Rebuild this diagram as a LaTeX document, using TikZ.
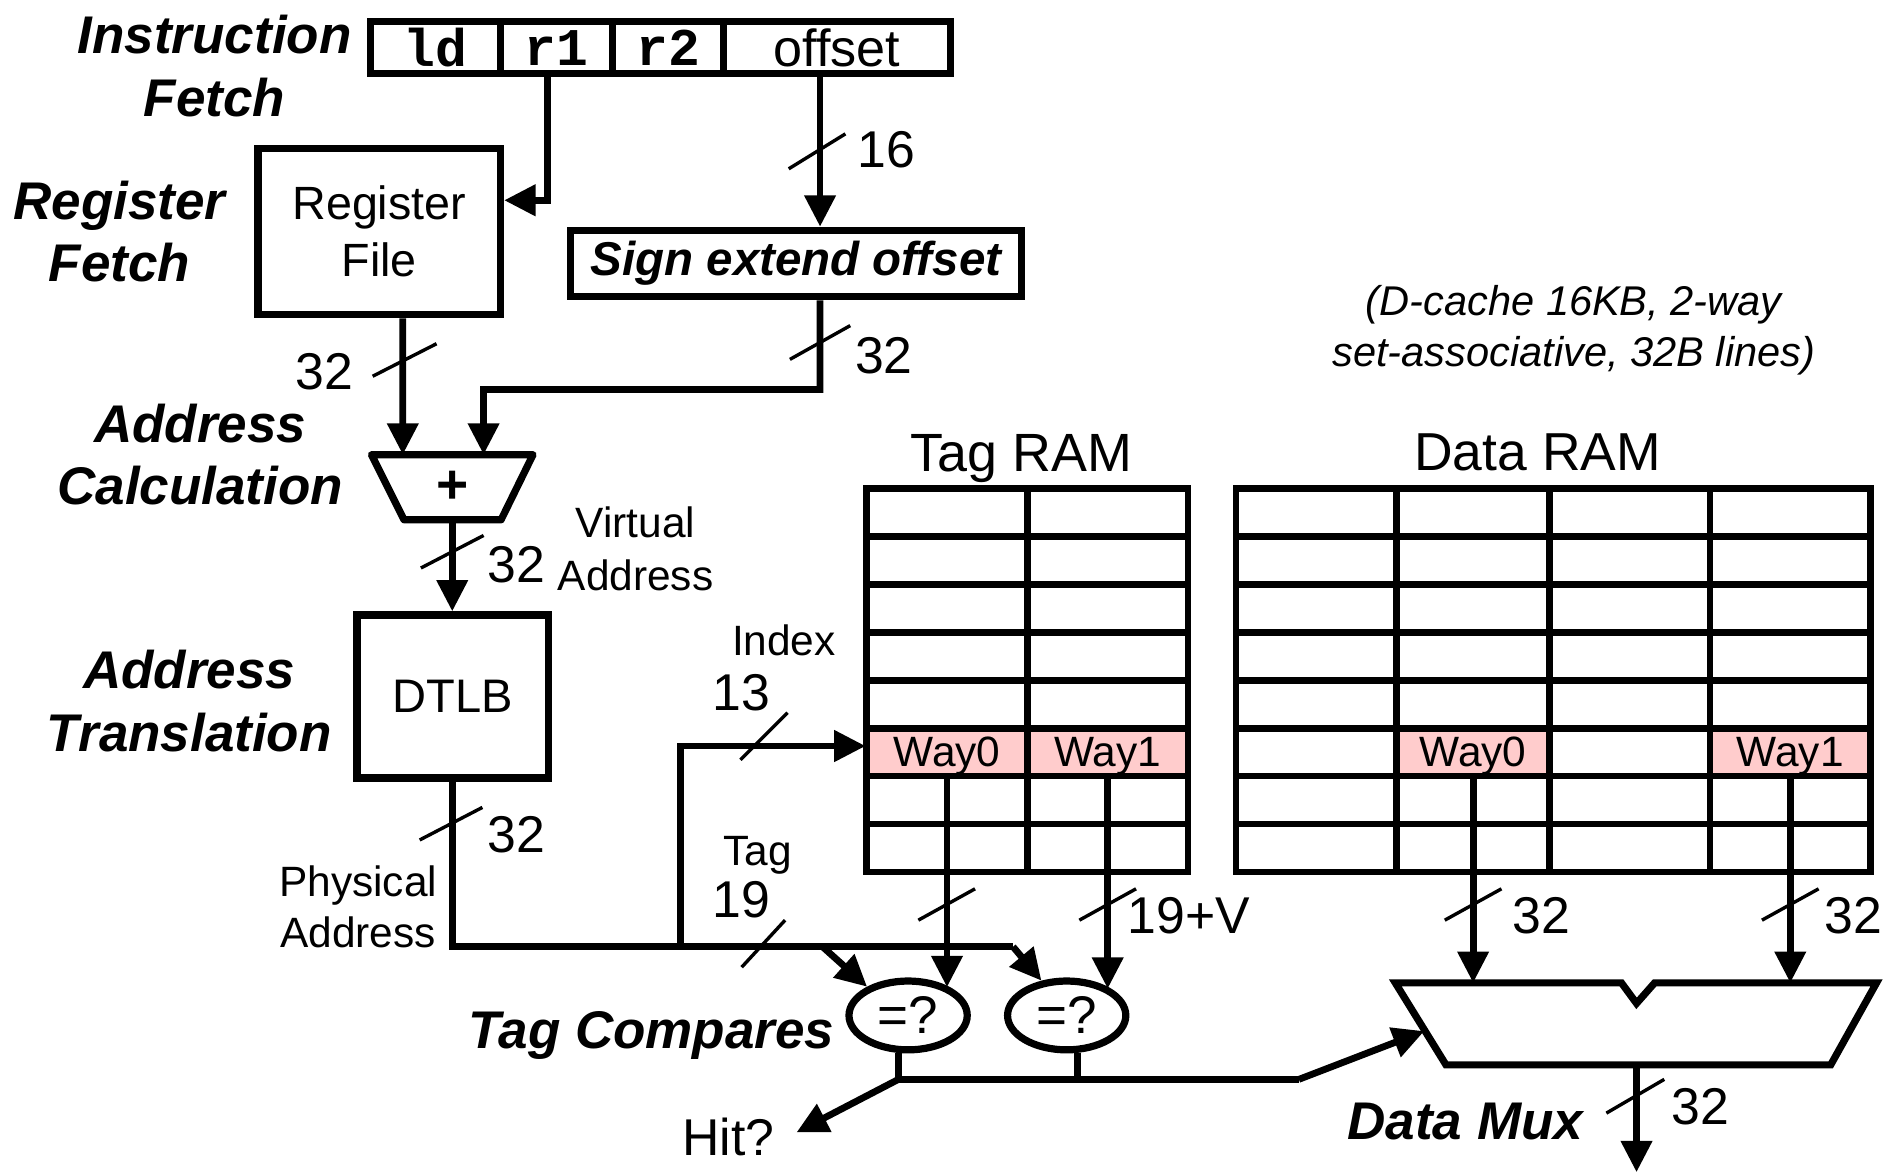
\documentclass[tikz,border=0pt]{standalone}
\usepackage{fontspec}
\setmainfont{Liberation Sans}
\setmonofont{Liberation Mono}
\usetikzlibrary{arrows.meta,calc,shapes.geometric}
\definecolor{waypink}{RGB}{255,204,204}
\newcommand\busmark[3]{\draw[busline] ($(#1)+(-#2,#3)$) -- ($(#1)+(#2,-#3)$);}
\begin{document}
\begin{tikzpicture}[x=0.01cm,y=-0.01cm,
  box/.style={draw,line width=1.7pt,inner sep=0pt,align=center},
  field/.style={draw,line width=1.6pt,inner sep=0pt,minimum height=0.43cm},
  wire/.style={line width=1.6pt},
  arr/.style={line width=1.6pt,-{Triangle[length=0.26cm,width=0.25cm]}},
  busline/.style={line width=0.8pt},
  stage/.style={font=\fontsize{12.5}{14.8}\selectfont\bfseries\itshape,align=center,inner sep=0pt},
  num/.style={font=\fontsize{12.2}{14}\selectfont,inner sep=0pt},
  note/.style={font=\fontsize{10}{12}\selectfont,align=center,inner sep=0pt},
  cell/.style={fill=waypink,inner sep=0pt,minimum height=0.3975cm,text depth=0pt,font=\fontsize{10}{12}\selectfont},
  gridline/.style={line width=1.6pt},
  cmp/.style={draw,ellipse,line width=1.7pt,minimum width=0.98cm,minimum height=0.57cm,inner sep=0pt,font=\fontsize{12.5}{14}\selectfont},
]
\useasboundingbox[fill=white] (0,0) rectangle (1568,973);

% ---------- stage labels ----------
\node[stage] (lif) at (178,55) {Instruction\\Fetch};
\node[stage] (lrf) at (99,192) {Register\\Fetch};
\node[stage] (lac) at (166,377) {Address\\Calculation};
\node[stage] (lat) at (157,581) {Address\\Translation};
\node[stage] (ltc) at (540,859) {Tag Compares};
\node[stage] (ldm) at (1215,930) {Data Mux};

% ---------- instruction ----------
\node[field,minimum width=1.08cm,font=\fontsize{12.5}{14}\selectfont\ttfamily\bfseries] (ld) at (361,39.5) {ld};
\node[field,minimum width=0.93cm,font=\fontsize{12.5}{14}\selectfont\ttfamily\bfseries] (r1) at (461.5,39.5) {r1};
\node[field,minimum width=0.92cm,font=\fontsize{12.5}{14}\selectfont\ttfamily\bfseries] (r2) at (554,39.5) {r2};
\node[field,minimum width=1.88cm,font=\fontsize{12.3}{14}\selectfont] (offset) at (694,39.5) {offset};

% ---------- register file, sign extend ----------
\node[box,minimum width=2.01cm,minimum height=1.38cm,font=\fontsize{11}{13.4}\selectfont] (rf) at (314.5,192) {Register\\File};
\node[box,minimum width=3.735cm,minimum height=0.55cm,font=\fontsize{11.2}{13}\selectfont\bfseries\itshape] (se) at (660,218.5) {Sign extend offset};

\coordinate (rfin) at ($(rf.north east)!0.32!(rf.south east)$);
\draw[arr] ([xshift=-0.075cm]r1.south) |- (rfin);
\draw[arr] ([xshift=-0.14cm]offset.south) -- ([xshift=-0.14cm]offset.south |- se.north);
\busmark{677.5,125.5}{23.5}{14.5}
\node[num] (n16) at (735,124) {16};

% ---------- adder ----------
\draw[line width=1.7pt,line join=round] (308,377) -- (442,377) -- (415.5,431) -- (335,431) -- cycle;
\node[font=\fontsize{13}{14}\selectfont\bfseries,inner sep=0pt] (add) at (375,404) {+};
\coordinate (addin1) at (334,377);
\coordinate (addin2) at (401,377);
\coordinate (addout) at (375,431);
\coordinate (sebend) at (680,323);

\draw[arr] ([xshift=0.195cm]rf.south) -- (addin1);
\busmark{335.5,298.5}{26.5}{13.5}
\node[num] (n32a) at (269,308) {32};

\draw[arr] ([xshift=0.2cm]se.south) -- (sebend) -| (addin2);
\busmark{680,284}{25}{14}
\node[num] (n32b) at (733,295) {32};

% ---------- DTLB ----------
\node[box,minimum width=1.59cm,minimum height=1.35cm,font=\fontsize{11.1}{13}\selectfont] (dtlb) at (375.5,577.5) {DTLB};
\draw[arr] (addout) -- (addout |- dtlb.north);
\busmark{375,457.5}{26}{13.5}
\node[num] (n32c) at (428,468) {32};
\node[note,font=\fontsize{10}{12.5}\selectfont] (va) at (527,455) {Virtual\\Address};

% ---------- cache RAMs ----------
\node[cell,minimum width=1.335cm] (tw0) at (785.25,623.6) {Way0};
\node[cell,minimum width=1.33cm] (tw1) at (918.5,623.6) {Way1};
\node[cell,minimum width=1.27cm] (dw0) at (1221.5,623.6) {Way0};
\node[cell,minimum width=1.33cm] (dw1) at (1484.5,623.6) {Way1};

\node[draw,gridline,minimum width=2.665cm,minimum height=3.18cm,inner sep=0pt] (tagram) at (851.75,564) {};
\node[draw,gridline,minimum width=5.26cm,minimum height=3.18cm,inner sep=0pt] (dataram) at (1288,564) {};
\foreach \k in {1,...,7} {
  \draw[gridline] (718.5,{405+39.75*\k}) -- (985,{405+39.75*\k});
  \draw[gridline] (1025,{405+39.75*\k}) -- (1551,{405+39.75*\k});
}
\draw[gridline] (852,405) -- (852,723);
\foreach \xx in {1158,1285,1418} {\draw[gridline] (\xx,405) -- (\xx,723);}

\node[font=\fontsize{12.7}{14}\selectfont,inner sep=0pt] (ltag) at (847,380) {Tag RAM};
\node[font=\fontsize{12.6}{14}\selectfont,inner sep=0pt] (ldata) at (1275,375) {Data RAM};
\node[font=\fontsize{9.8}{12}\selectfont\itshape,align=center,inner sep=0pt] (dcache) at (1305,274) {(D-cache 16KB, 2-way\\set-associative, 32B lines)};

% ---------- physical address bus ----------
\coordinate (pa) at (375.5,785);
\coordinate (j1) at (564,785);
\coordinate (b1) at (682,785);
\coordinate (b2) at (840,785);
\draw[wire] (dtlb.south) -- (pa) -- (b2);
\busmark{374,683}{26}{13.5}
\node[num] (n32d) at (428,692) {32};
\node[note,font=\fontsize{10}{12}\selectfont] (phys) at (297,752) {Physical\\Address};

\draw[arr] (j1) |- ([yshift=0.05cm]tw0.west);
\busmark{633.5,610.5}{19.5}{19.5}
\node[note] (lidx) at (650,531) {Index};
\node[num] (n13) at (615,574) {13};

\busmark{633,782.5}{18}{19.5}
\node[note] (ltg) at (628,709) {Tag};
\node[num] (n19) at (615,746) {19};

% ---------- comparators ----------
\node[cmp] (cmp1) at (753,842) {=?};
\node[cmp] (cmp2) at (884.5,842) {=?};
\draw[arr] (b1) -- (cmp1.145);
\draw[arr] (b2) -- (cmp2.126);
\draw[arr] (tw0.south) -- (tw0.south |- cmp1.34);
\draw[arr] (tw1.south) -- (tw1.south |- cmp2.31);
\busmark{785,750}{23.5}{13}
\busmark{918.5,750}{23.5}{13}
\node[num] (n19v) at (986,759) {19+V};

% ---------- data mux ----------
\draw[line width=1.7pt,line join=miter] (1157,815) -- (1344.5,815) -- (1357,832) -- (1372,815) -- (1556,815) -- (1518,883) -- (1199,883) -- cycle;
\coordinate (muxtop) at (1357,815);
\coordinate (muxout) at (1357,883);
\coordinate (muxsel) at (1181,855);
\coordinate (dout) at (1357,972);

\draw[arr] (dw0.south) -- (dw0.south |- muxtop);
\draw[arr] (dw1.south) -- (dw1.south |- muxtop);
\busmark{1221.5,750}{23.5}{13}
\busmark{1484.5,750}{23.5}{13}
\node[num] (n32e) at (1278,759) {32};
\node[num] (n32f) at (1537,759) {32};

\draw[arr] (muxout) -- (dout);
\busmark{1356,909}{24}{14}
\node[num] (n32g) at (1410,918) {32};

% ---------- hit / select ----------
\coordinate (hb) at (1077,895);
\node[num,inner sep=5pt] (hit) at (604,943) {Hit?};
\draw[wire] ([xshift=-0.08cm]cmp1.south) -- ([xshift=-0.08cm]cmp1.south |- hb) coordinate (hj) -- (hb);
\draw[wire] ([xshift=0.09cm]cmp2.south) -- ([xshift=0.09cm]cmp2.south |- hb);
\draw[arr] (hb) -- (muxsel);
\draw[arr] (hj) -- ([yshift=0.04cm]hit.east);
\end{tikzpicture}
\end{document}
